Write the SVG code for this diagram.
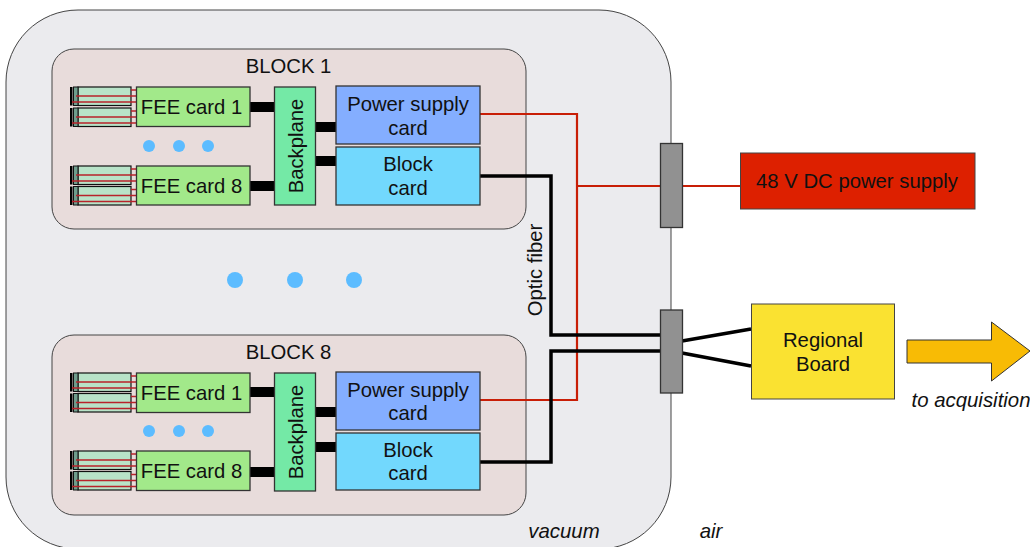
<svg xmlns="http://www.w3.org/2000/svg" xmlns:xlink="http://www.w3.org/1999/xlink" width="1030" height="547" viewBox="0 0 1030 547">
<style>
text{font-family:"Liberation Sans",Arial,sans-serif;font-size:20.3px;fill:#111;text-anchor:middle}
.it{font-style:italic;font-size:20.4px}
.box{stroke:#333;stroke-width:1.3}
.fee{fill:#a2e98a}
.bp{fill:#74e9a6}
.ps{fill:#84aeff}
.bc{fill:#72d8fd}
.bar{fill:#000}
.dot{fill:#5cbcff}
.red{fill:none;stroke:#c81e06;stroke-width:2.2}
.blk{fill:none;stroke:#000;stroke-width:3.5}
.gland{fill:#919191;stroke:#333;stroke-width:1.3}
.st{fill:#b8e3c8;stroke:#111;stroke-width:1.2}
.sd{fill:#6f9c8c;stroke:#111;stroke-width:1}
.sr{stroke:#b8232a;stroke-width:1.4;fill:none}
</style>
<defs>
<g id="stub">
<rect class="st" x="78" y="0" width="53" height="18.5"/>
<rect x="70" y="0" width="2.5" height="18.5" fill="#000"/>
<rect class="sd" x="73.500" y="0" width="4.500" height="18.500"/>
<path class="sr" d="M131 3H136M76 9H136M72 15H136"/>
</g>
</defs>
<g id="vacuum"><rect x="6" y="10" width="665" height="539" rx="72" ry="72" fill="#ebebee" stroke="#444" stroke-width="1"/></g>
<g id="block1">
<rect x="52" y="49" width="474" height="180" rx="22" ry="22" fill="#e8dcdb" stroke="#444" stroke-width="1"/>
<text x="288.500" y="73">BLOCK 1</text>
</g>
<g id="block8">
<rect x="52" y="335" width="474" height="180" rx="22" ry="22" fill="#e8dcdb" stroke="#444" stroke-width="1"/>
<text x="288.500" y="359">BLOCK 8</text>
</g>
<g id="connectors">
<rect class="bar" x="250" y="102" width="25" height="10"/>
<rect class="bar" x="250" y="181" width="25" height="10"/>
<rect class="bar" x="315" y="122" width="21" height="10"/>
<rect class="bar" x="315" y="156" width="21" height="10"/>
<rect class="bar" x="250" y="387" width="25" height="10"/>
<rect class="bar" x="250" y="467" width="25" height="10"/>
<rect class="bar" x="315" y="407" width="21" height="10"/>
<rect class="bar" x="315" y="442" width="21" height="10"/>
<path class="red" d="M480 114H577V400H480"/>
<path class="red" d="M577 186H660M683 186H740"/>
<path class="blk" d="M480 176H551V335H660"/>
<path class="blk" d="M480 462H551V351H660"/>
<path class="blk" d="M682 341L751 329M682 353L751 366"/>
</g>
<g id="fee-stubs-1">
<use xlink:href="#stub" href="#stub" y="87"/>
<use xlink:href="#stub" href="#stub" y="108"/>
<use xlink:href="#stub" href="#stub" y="166"/>
<use xlink:href="#stub" href="#stub" y="186.500"/>
</g>
<g id="fee-stubs-8">
<use xlink:href="#stub" href="#stub" y="373"/>
<use xlink:href="#stub" href="#stub" y="393.500"/>
<use xlink:href="#stub" href="#stub" y="451"/>
<use xlink:href="#stub" href="#stub" y="471.500"/>
</g>
<g id="b1-fee1"><rect class="box fee" x="136.500" y="87" width="113.500" height="39.500"/><text x="191.500" y="114">FEE card 1</text></g>
<g id="b1-fee8"><rect class="box fee" x="136.500" y="166" width="113.500" height="39"/><text x="191.500" y="193">FEE card 8</text></g>
<g id="b1-dots"><circle class="dot" cx="149" cy="146" r="6"/><circle class="dot" cx="179" cy="146" r="6"/><circle class="dot" cx="208" cy="146" r="6"/></g>
<g id="b1-backplane"><rect class="box bp" x="274.500" y="87" width="41" height="118"/><text transform="translate(302.500 146) rotate(-90)">Backplane</text></g>
<g id="b1-power"><rect class="box ps" x="336" y="86" width="144" height="58"/><text x="408" y="111">Power supply</text><text x="408" y="135">card</text></g>
<g id="b1-blockcard"><rect class="box bc" x="336" y="147" width="144" height="58"/><text x="408" y="171">Block</text><text x="408" y="195">card</text></g>
<g id="b8-fee1"><rect class="box fee" x="136.500" y="373" width="113.500" height="39.500"/><text x="191.500" y="400">FEE card 1</text></g>
<g id="b8-fee8"><rect class="box fee" x="136.500" y="451" width="113.500" height="39.500"/><text x="191.500" y="478">FEE card 8</text></g>
<g id="b8-dots"><circle class="dot" cx="149" cy="431" r="6"/><circle class="dot" cx="179" cy="431" r="6"/><circle class="dot" cx="208" cy="431" r="6"/></g>
<g id="b8-backplane"><rect class="box bp" x="274.500" y="373" width="41" height="118"/><text transform="translate(302.500 432) rotate(-90)">Backplane</text></g>
<g id="b8-power"><rect class="box ps" x="336" y="372" width="144" height="58"/><text x="408" y="397">Power supply</text><text x="408" y="420">card</text></g>
<g id="b8-blockcard"><rect class="box bc" x="336" y="433" width="144" height="57"/><text x="408" y="457">Block</text><text x="408" y="480">card</text></g>
<g id="middle-dots"><circle class="dot" cx="235" cy="280" r="8"/><circle class="dot" cx="295" cy="280" r="8"/><circle class="dot" cx="354" cy="280" r="8"/></g>
<g id="optic-label"><text transform="translate(542 270) rotate(-90)">Optic fiber</text></g>
<g id="gland-power"><rect class="gland" x="660.500" y="143.500" width="22" height="84"/></g>
<g id="gland-fiber"><rect class="gland" x="660.500" y="310" width="22" height="83"/></g>
<g id="dc-supply"><rect x="740.500" y="153" width="234.500" height="56" fill="#dd2000" stroke="#444" stroke-width="1"/><text x="857" y="188">48 V DC power supply</text></g>
<g id="regional-board"><rect x="751.500" y="304" width="143" height="95" fill="#fae231" stroke="#444" stroke-width="1"/><text x="823" y="347">Regional</text><text x="823" y="371">Board</text></g>
<g id="acq-arrow"><path d="M907 340H991.500V322L1030 351L991.500 381V363H907Z" fill="#f8bb05" stroke="#333" stroke-width="1"/></g>
<text class="it" x="971" y="407">to acquisition</text>
<text class="it" x="564" y="538">vacuum</text>
<text class="it" x="711" y="538">air</text>
</svg>
